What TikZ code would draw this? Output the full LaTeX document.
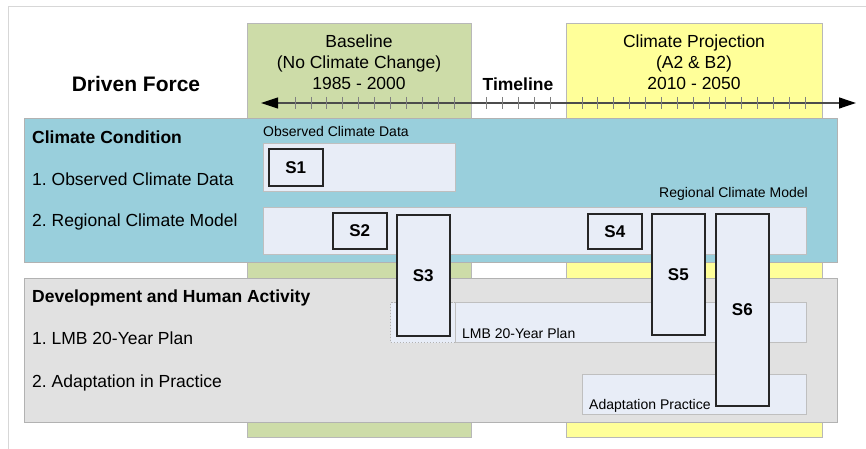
\documentclass[tikz,border=0pt]{standalone}
\usepackage{fontspec}
\setmainfont{Liberation Sans}
\usetikzlibrary{positioning,arrows.meta,calc}
\definecolor{basegreen}{RGB}{205,220,168}
\definecolor{projyellow}{RGB}{255,255,153}
\definecolor{climblue}{RGB}{153,207,220}
\definecolor{devgray}{RGB}{225,225,225}
\definecolor{stripfill}{RGB}{232,237,247}
\definecolor{framegray}{RGB}{215,215,215}
\tikzset{
    period/.style={rectangle, draw=black!28, line width=0.8pt, anchor=north west, inner sep=0pt},
    panel/.style={rectangle, draw=black!30, line width=0.8pt, anchor=north west, inner sep=0pt},
    strip/.style={rectangle, draw=black!25, fill=stripfill, line width=1pt, anchor=north west, inner sep=0pt},
    scen/.style={rectangle, draw=black!85, fill=stripfill, line width=1.6pt, anchor=north west, inner sep=0pt, font=\fontsize{17}{20}\selectfont\bfseries},
    hdr/.style={anchor=base, inner sep=0pt, font=\fontsize{17.5}{21}\selectfont},
    heading/.style={anchor=base west, inner sep=0pt, font=\fontsize{17.5}{21}\selectfont\bfseries},
    item/.style={anchor=base west, inner sep=0pt, font=\fontsize{17.5}{21}\selectfont},
    smalllabel/.style={inner sep=0pt, font=\fontsize{14}{16}\selectfont},
    timeline/.style={draw=black!70, line width=1.2pt, {Triangle[length=17pt,width=11pt,color=black]}-{Triangle[length=17pt,width=11pt,color=black]}},
    yeartick/.style={draw=black!50, line width=0.8pt},
    frameline/.style={draw=framegray, line width=1pt}
}
\frenchspacing

\begin{document}
\begin{tikzpicture}[x=1pt, y=-1pt]
    \useasboundingbox (0,0) rectangle (866,449);

    % Frame
    \coordinate (frameBL) at (8,449);
    \coordinate (frameTR) at (866,7);
    \draw [frameline] (frameBL) |- (frameTR);

    % Periods
    \node [period, fill=basegreen, minimum width=224pt, minimum height=414pt] (baseline) at (247,23) {};
    \node [period, fill=projyellow, minimum width=256pt, minimum height=414pt] (projection) at (566,23) {};

    \node [hdr] (base1) at (359,48) {Baseline};
    \node [hdr, below=21pt of base1.base, anchor=base] (base2) {(No Climate Change)};
    \node [hdr, below=21pt of base2.base, anchor=base] (base3) {1985 - 2000};

    \node [hdr] (proj1) at (694,48) {Climate Projection};
    \node [hdr, below=21pt of proj1.base, anchor=base] (proj2) {(A2 \& B2)};
    \node [hdr, below=21pt of proj2.base, anchor=base] (proj3) {2010 - 2050};

    \node [heading, anchor=base, font=\fontsize{21}{24}\selectfont\bfseries] (force) at (136,92) {Driven Force};
    \node [heading, anchor=base] (tline) at (518,91) {Timeline};

    % Timeline
    \coordinate (tstart) at (261,103);
    \coordinate (tend) at (856,103);
    \draw [timeline] (tstart) -- (tend);
    \foreach \k in {0,...,32}{
        \ifnum\k=11\else\ifnum\k=17\else
        \draw [yeartick] ($(tstart)+(34+15.94*\k,-6)$) -- ++(0,12);
        \fi\fi
    }

    % Climate condition
    \node [panel, fill=climblue, minimum width=813pt, minimum height=144pt] (climate) at (24,118) {};
    \node [heading] (cc) at (32,143) {Climate Condition};
    \node [item, below=42pt of cc.base west, anchor=base west] (cc1) {1. Observed Climate Data};
    \node [item, below=41pt of cc1.base west, anchor=base west] (cc2) {2. Regional Climate Model};

    \node [strip, minimum width=192pt, minimum height=48pt] (obs) at (263,143) {};
    \node [smalllabel, above right=6pt and 0pt of obs.north west] (obslabel) {Observed Climate Data};
    \node [strip, minimum width=543pt, minimum height=47pt] (rcm) at (263,207) {};
    \node [smalllabel, above left=6pt and -1pt of rcm.north east] (rcmlabel) {Regional Climate Model};

    % Development and human activity
    \node [panel, fill=devgray, minimum width=813pt, minimum height=144pt] (dev) at (24,278) {};
    \node [heading] (dh) at (32,302) {Development and Human Activity};
    \node [item, below=42pt of dh.base west, anchor=base west] (dh1) {1. LMB 20-Year Plan};
    \node [item, below=43pt of dh1.base west, anchor=base west] (dh2) {2. Adaptation in Practice};

    \node [strip, draw=black!30, dashed, dash pattern=on 1.5pt off 1.5pt, minimum width=65pt, minimum height=40pt] (lmbpre) at (390,302) {};
    \node [strip, minimum width=351pt, minimum height=40pt] (lmb) at (455,302) {};
    \node [smalllabel, anchor=base west] (lmblabel) at ($(lmb.south west)+(7,-5)$) {LMB 20-Year Plan};
    \node [strip, minimum width=224pt, minimum height=40pt] (adapt) at (582,374) {};
    \node [smalllabel, anchor=base west] (adaptlabel) at ($(adapt.south west)+(7,-6)$) {Adaptation Practice};

    % Scenarios
    \node [scen, minimum width=54pt, minimum height=37pt] (s1) at (268,148) {S1};
    \node [scen, minimum width=54pt, minimum height=36pt] (s2) at (332,212) {S2};
    \node [scen, minimum width=53pt, minimum height=121pt] (s3) at (396,214) {S3};
    \node [scen, minimum width=54pt, minimum height=35pt] (s4) at (587,213) {S4};
    \node [scen, minimum width=53pt, minimum height=121pt] (s5) at (651,213) {S5};
    \node [scen, minimum width=53pt, minimum height=192pt] (s6) at (715,213) {S6};
\end{tikzpicture}
\end{document}
